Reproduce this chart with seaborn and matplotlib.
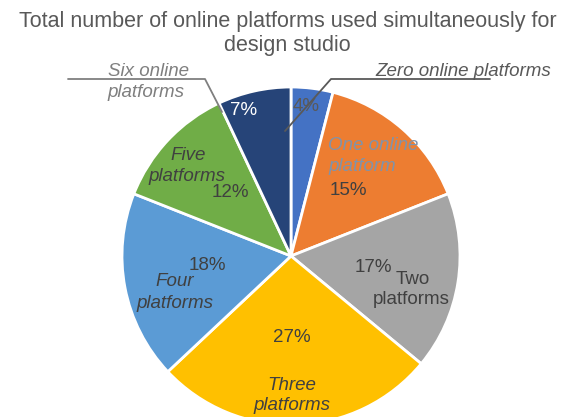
import matplotlib
matplotlib.use("Agg")
import matplotlib.pyplot as plt
import seaborn as sns

categories = ["Zero online platforms", "One online platform", "Two platforms",
              "Three platforms", "Four platforms", "Five platforms", "Six online platforms"]
values = [4, 15, 17, 27, 18, 12, 7]
pct_labels = ["4%", "15%", "17%", "27%", "18%", "12%", "7%"]
colors = ["#4472C4", "#ED7D31", "#A5A5A5", "#FFC000", "#5B9BD5", "#70AD47", "#264478"]

sns.set_theme(style="white")
plt.rcParams['font.family'] = ['Liberation Sans', 'DejaVu Sans']

W, H = 567, 417
fig = plt.figure(figsize=(W / 100, H / 100), dpi=100)
ax = fig.add_axes([0, 0, 1, 1])

cx, cy, r = 291, 256, 169
wedges, _ = ax.pie(values, colors=colors, startangle=-90, counterclock=True,
                   center=(cx, cy), radius=r, frame=True,
                   wedgeprops=dict(edgecolor="white", linewidth=2))
ax.set_xlim(0, W)
ax.set_ylim(H, 0)
ax.set_aspect("equal")
ax.axis("off")

title_c = "#595959"
fig.text(0.5 + 4 / W, 1 - 21 / H, "Total number of online platforms used simultaneously for",
         ha="center", va="center", fontsize=15.5, color=title_c)
fig.text(0.5 + 4 / W, 1 - 45 / H, "design studio", ha="center", va="center",
         fontsize=15.5, color=title_c)

dark = "#404040"
grey = "#7F7F7F"
fs = 13.5

# leader lines
ax.plot([490, 331, 285], [79, 79, 131], color="#595959", lw=1.3)
ax.plot([68, 205, 222], [79, 79, 112], color="#7F7F7F", lw=1.3)

ax.text(463, 71, "Zero online platforms", ha="center", va="center", fontsize=fs,
        style="italic", color=title_c)
ax.text(148, 71, "Six online", ha="center", va="center", fontsize=fs,
        style="italic", color=grey)
ax.text(146, 92, "platforms", ha="center", va="center", fontsize=fs,
        style="italic", color=grey)

ax.text(306, 106, pct_labels[0], ha="center", va="center", fontsize=fs, color="#595959")
ax.text(244, 110, pct_labels[6], ha="center", va="center", fontsize=fs, color="white")

ax.text(328, 145, "One online", ha="left", va="center", fontsize=fs, style="italic", color="#8093AA")
ax.text(328, 166, "platform", ha="left", va="center", fontsize=fs, style="italic", color="#8093AA")
ax.text(348, 190, pct_labels[1], ha="center", va="center", fontsize=fs, color=dark)

ax.text(373, 267, pct_labels[2], ha="center", va="center", fontsize=fs, color=dark)
ax.text(413, 279, "Two", ha="center", va="center", fontsize=fs, color=dark)
ax.text(411, 300, "platforms", ha="center", va="center", fontsize=fs, color=dark)

ax.text(292, 337, pct_labels[3], ha="center", va="center", fontsize=fs, color=dark)
ax.text(292, 385, "Three", ha="center", va="center", fontsize=fs, style="italic", color=dark)
ax.text(292, 406, "platforms", ha="center", va="center", fontsize=fs, style="italic", color=dark)

ax.text(207, 265, pct_labels[4], ha="center", va="center", fontsize=fs, color=dark)
ax.text(175, 282, "Four", ha="center", va="center", fontsize=fs, style="italic", color=dark)
ax.text(175, 303, "platforms", ha="center", va="center", fontsize=fs, style="italic", color=dark)

ax.text(188, 155, "Five", ha="center", va="center", fontsize=fs, style="italic", color=dark)
ax.text(187, 176, "platforms", ha="center", va="center", fontsize=fs, style="italic", color=dark)
ax.text(230, 192, pct_labels[5], ha="center", va="center", fontsize=fs, color=dark)

fig.savefig("out.png", dpi=100, facecolor="white")
